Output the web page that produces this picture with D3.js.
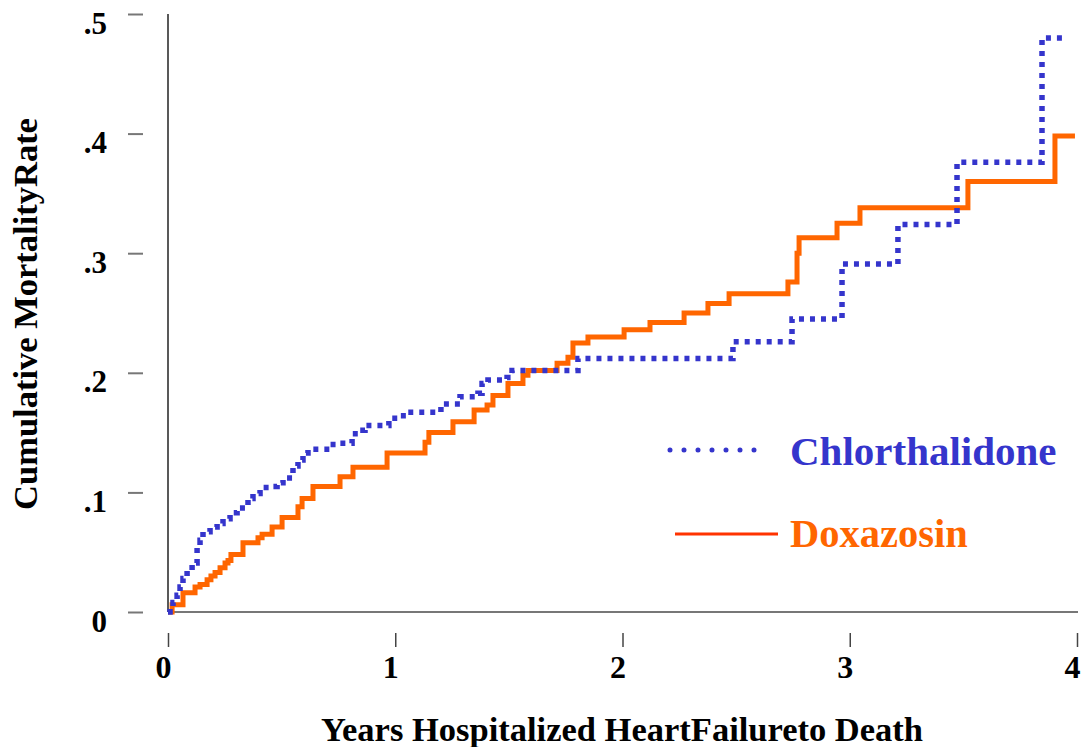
<!DOCTYPE html>
<html><head><meta charset="utf-8">
<script src="https://cdn.jsdelivr.net/npm/d3@7"></script>
<style>
html,body{margin:0;padding:0;background:#fff;}
svg{display:block;}
text{font-family:"Liberation Serif","Times New Roman",serif;font-weight:bold;}
</style></head>
<body><svg id="c" width="1081" height="747"></svg>
<script>
// Kaplan-Meier style step data: [years, cumulative mortality rate]
const chlorTimes = [0,0.009,0.022,0.040,0.053,0.066,0.084,0.106,0.128,0.141,0.154,0.185,0.216,0.242,0.273,0.304,0.339,0.352,0.374,0.405,0.449,0.480,0.506,0.546,0.550,0.572,0.594,0.616,0.713,0.748,0.810,0.845,0.867,0.972,1.021,1.052,1.201,1.285,1.364,1.382,1.408,1.492,1.514,1.804,2.486,2.746,2.966,3.212,3.472,3.846,3.934];
const chlorRates = [0,0.005,0.008,0.014,0.021,0.028,0.035,0.041,0.054,0.060,0.067,0.071,0.074,0.078,0.083,0.087,0.089,0.095,0.099,0.104,0.105,0.108,0.112,0.116,0.122,0.127,0.133,0.136,0.140,0.141,0.149,0.152,0.156,0.162,0.164,0.167,0.174,0.180,0.183,0.191,0.194,0.196,0.202,0.212,0.226,0.245,0.291,0.324,0.376,0.480,0.480];
const doxaTimes = [0,0.018,0.066,0.119,0.141,0.172,0.189,0.207,0.229,0.251,0.264,0.277,0.330,0.396,0.414,0.458,0.502,0.572,0.590,0.638,0.757,0.814,0.964,1.131,1.148,1.254,1.347,1.404,1.430,1.496,1.562,1.584,1.712,1.760,1.782,1.848,2.007,2.121,2.271,2.376,2.469,2.728,2.768,2.777,2.944,3.045,3.520,3.903,3.991];
const doxaRates = [0,0.006,0.016,0.021,0.023,0.027,0.030,0.033,0.037,0.041,0.043,0.048,0.058,0.062,0.065,0.071,0.079,0.088,0.095,0.105,0.113,0.121,0.133,0.142,0.150,0.159,0.169,0.173,0.181,0.191,0.198,0.202,0.208,0.213,0.225,0.230,0.236,0.242,0.250,0.258,0.266,0.276,0.300,0.313,0.325,0.338,0.360,0.398,0.398];
const xTicks = [0,1,2,3,4];
const xTickLabels = ["0","1","2","3","4"];
const yTicks = [0,0.1,0.2,0.3,0.4,0.5];
const yTickLabels = ["0",".1",".2",".3",".4",".5"];
const seriesNames = ["Chlorthalidone","Doxazosin"];
const xTitle = "Years Hospitalized HeartFailureto Death";
const yTitle = "Cumulative MortalityRate";

const svg = d3.select("#c");
const x = d3.scaleLinear().domain([0,4]).range([168,1077]);
const y = d3.scaleLinear().domain([0,0.5]).range([612,14]);
const blue = "#3535CC", orange = "#FF6600";

// axis lines
svg.append("line").attr("x1",168).attr("x2",168).attr("y1",y(0.5)).attr("y2",y(0))
  .attr("stroke","#222").attr("stroke-width",1.5);
svg.append("line").attr("x1",168).attr("x2",1078).attr("y1",y(0)).attr("y2",y(0))
  .attr("stroke","#777").attr("stroke-width",2);

const ya = svg.append("g").attr("transform","translate(143,0)")
  .call(d3.axisLeft(y).tickValues(yTicks).tickFormat((d,i)=>yTickLabels[i]).tickSizeInner(15).tickSizeOuter(0).tickPadding(21));
ya.select(".domain").remove();
ya.selectAll(".tick line").attr("stroke","#777").attr("stroke-width",2);
ya.selectAll(".tick text").attr("dy",null).attr("y",19).attr("fill","#000")
  .style("font-size","31px").style("font-family","'Liberation Serif',serif").style("font-weight","bold");

const xa = svg.append("g").attr("transform","translate(0,633)")
  .call(d3.axisBottom(x).tickValues(xTicks).tickFormat((d,i)=>xTickLabels[i]).tickSizeInner(14).tickSizeOuter(0));
xa.select(".domain").remove();
xa.selectAll(".tick line").attr("stroke","#444").attr("stroke-width",1.5);
xa.selectAll(".tick text").attr("dy",null).attr("y",45).attr("dx",-5).attr("fill","#000")
  .style("font-size","32px").style("font-family","'Liberation Serif',serif").style("font-weight","bold");

// titles
svg.append("text").attr("x",622).attr("y",741).attr("text-anchor","middle")
  .style("font-size","34.5px").text(xTitle);
svg.append("text").attr("transform","translate(37,314) rotate(-90)").attr("text-anchor","middle")
  .style("font-size","34.5px").text(yTitle);

// lines
const line = d3.line().x(d=>x(d[0])).y(d=>y(d[1])).curve(d3.curveStepAfter);
const chlor = chlorTimes.map((t,i)=>[t,chlorRates[i]]);
const doxa = doxaTimes.map((t,i)=>[t,doxaRates[i]]);

svg.append("path").datum(doxa).attr("d",line).attr("fill","none")
  .attr("stroke",orange).attr("stroke-width",5).attr("stroke-linejoin","miter");
svg.append("path").datum(chlor).attr("d",line).attr("fill","none")
  .attr("stroke",blue).attr("stroke-width",5.5).attr("stroke-dasharray","5,6");

// legend
svg.append("line").attr("x1",670).attr("x2",768).attr("y1",450).attr("y2",450)
  .attr("stroke",blue).attr("stroke-width",5).attr("stroke-linecap","round").attr("stroke-dasharray","0,14");
svg.append("text").attr("x",790).attr("y",465).attr("fill",blue).style("font-size","41px").text(seriesNames[0]);
svg.append("line").attr("x1",675).attr("x2",778).attr("y1",534).attr("y2",534)
  .attr("stroke","#FF3300").attr("stroke-width",3);
svg.append("text").attr("x",790).attr("y",547).attr("fill",orange).style("font-size","40.5px").text(seriesNames[1]);
</script></body></html>
